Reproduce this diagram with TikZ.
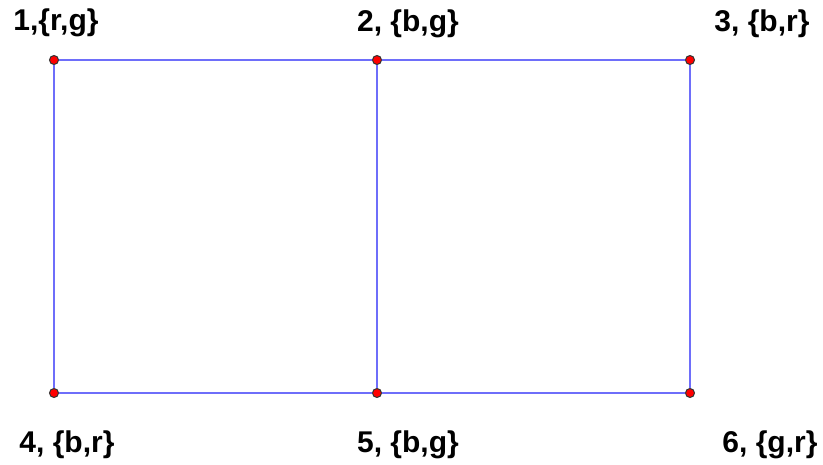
\documentclass[tikz,border=0pt]{standalone}
\usepackage{fontspec}
\setmainfont{Liberation Sans}
\usepackage{xcolor}
\usetikzlibrary{positioning}

\definecolor{edgeblue}{RGB}{110,110,250}

\begin{document}
\begin{tikzpicture}[
    x=1pt, y=-1pt,
    vertex/.style={draw=black!80, circle, fill=red, line width=1pt,
                   inner sep=0pt, minimum size=9pt},
    vlabel/.style={font=\bfseries\fontsize{30}{36}\selectfont, inner sep=0pt},
    edge/.style={draw=edgeblue, line width=1.3pt}
]
\useasboundingbox (0,0) rectangle (823,464);

% Vertices
\node[vertex] (v1) at (54,60) {};
\node[vertex] (v2) at (377,60) {};
\node[vertex] (v3) at (690,60) {};
\node[vertex] (v4) at (54,393) {};
\node[vertex] (v5) at (377,393) {};
\node[vertex] (v6) at (690,393) {};

% Labels
\node[vlabel] (l1) at (56,23) {1,\{r,g\}};
\node[vlabel] (l2) at (408,24) {2, \{b,g\}};
\node[vlabel] (l3) at (762,24) {3, \{b,r\}};
\node[vlabel] (l4) at (67,445) {4, \{b,r\}};
\node[vlabel] (l5) at (408,445) {5, \{b,g\}};
\node[vlabel] (l6) at (770,445) {6, \{g,r\}};

% Edges
\draw[edge] (v1) -- (v2);
\draw[edge] (v2) -- (v3);
\draw[edge] (v3) -- (v6);
\draw[edge] (v6) -- (v5);
\draw[edge] (v5) -- (v4);
\draw[edge] (v4) -- (v1);
\draw[edge] (v2) -- (v5);

\end{tikzpicture}
\end{document}
